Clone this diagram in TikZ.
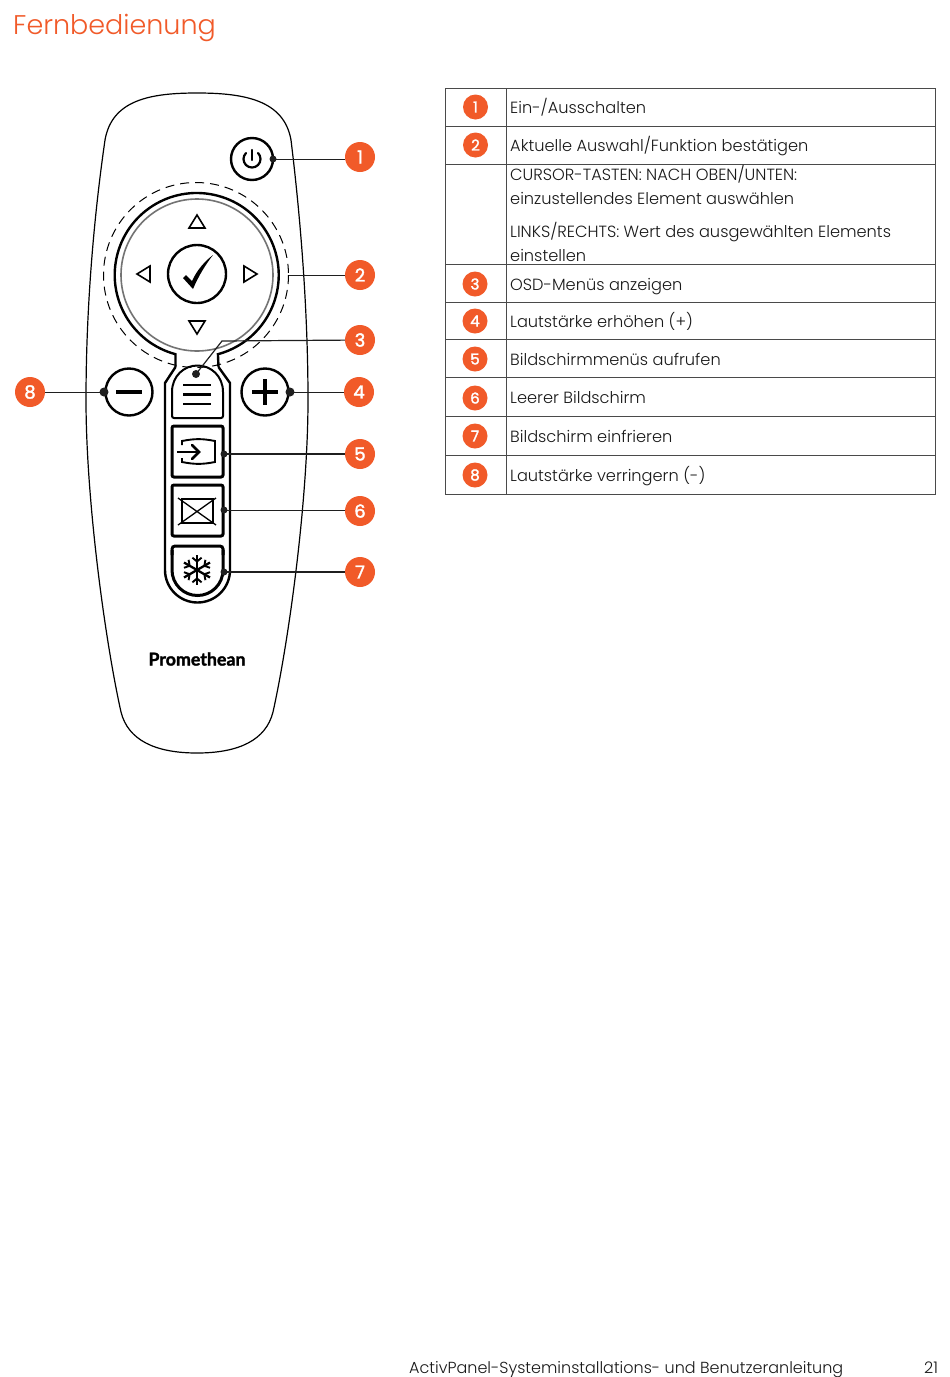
\documentclass[tikz,border=0pt]{standalone}
\usepackage{fontspec}
\usetikzlibrary{calc}
\setmainfont{Poppins Light}
\newfontfamily\boldf{Poppins}[FakeBold=2]
\newfontfamily\logof{Lato}[FakeBold=1.6]
\definecolor{promo}{HTML}{F15A29}
\definecolor{lin}{HTML}{1F1F1F}
\definecolor{rule}{HTML}{4A4A4A}
\tikzset{
 badge/.style={circle,fill=promo,draw=none,minimum size=30pt,inner sep=0pt,text=white,font=\boldf\fontsize{18}{18}\selectfont},
 tbadge/.style={circle,fill=promo,draw=none,minimum size=25pt,inner sep=0pt,text=white,font=\boldf\fontsize{15}{15}\selectfont},
 dotn/.style={circle,fill=lin,draw=none,minimum size=9pt,inner sep=0pt},
 leader/.style={draw=lin,line width=0.9pt},
 thick line/.style={draw=black,line width=2.4pt},
 mid line/.style={draw=black,line width=1.6pt},
 tabtxt/.style={anchor=base west,inner sep=0pt,font=\fontsize{16.2}{16.2}\selectfont,text=black!90},
 tabrule/.style={draw=rule,line width=0.9pt},
}
\begin{document}
\begin{tikzpicture}[x=1pt,y=-1pt]
\useasboundingbox (0,0) rectangle (950,1377);
\fill[white] (0,0) rectangle (950,1377);
\node[anchor=base west,inner sep=0pt,text=promo,font=\fontsize{27}{27}\selectfont] (title) at (13,34) {Fernbedienung};
% body
\draw[black,line width=1.2pt] (197,93) .. controls (150,93) and (112,100) .. (105,140) .. controls (92,230) and (86,320) .. (86,400) .. controls (86,500) and (105,640) .. (121,712) .. controls (128,740) and (155,753) .. (197,753) .. controls (239,753) and (266,740) .. (273,712) .. controls (289,640) and (308,500) .. (308,400) .. controls (308,320) and (302,230) .. (291,140) .. controls (284,100) and (244,93) .. (197,93) -- cycle;
% wheel
\draw[black,dash pattern=on 9pt off 6pt,line width=1pt] (196,275) circle (92.5);
\draw[thick line] (175.5,367) -- (175.5,354.2) arc[start angle=255,end angle=-75,radius=82pt] -- (218.5,367);
\draw[draw=black!55,line width=1.6pt] (197,275) circle (76);
\draw[thick line] (197,274) circle (29);
\path[fill=black] (183,278) -- (186,275) -- (192,281) .. controls (197,270) and (205,261) .. (213,255) .. controls (206,264) and (199,275) .. (193,289) -- cycle;
\draw[mid line,line join=miter] (189,228) -- (205,228) -- (197,215) -- cycle;
\draw[mid line] (189,321) -- (205,321) -- (197,334) -- cycle;
\draw[mid line] (150,266) -- (150,282) -- (137,274) -- cycle;
\draw[mid line] (244,266) -- (244,282) -- (257,274) -- cycle;
% power
\draw[thick line] (252,159) circle (21);
\draw[black,line width=2.2pt,line cap=round] (246,153) arc[start angle=135,end angle=405,radius=8.5pt];
\draw[black,line width=2.2pt,line cap=round] (252,150) -- (252,160);
% pill
\draw[thick line] (175.5,367) -- (165,383) -- (165,570) arc[start angle=180,end angle=360,radius=32.5pt] -- (230,383) -- (218.5,367);
% minus/plus
\draw[thick line] (129,392) circle (23.5);
\draw[black,line width=4.2pt] (116,392) -- (142,392);
\draw[thick line] (265,392) circle (23.5);
\draw[black,line width=4.2pt] (252,392) -- (278,392) (265,379) -- (265,405);
% buttons
\draw[mid line,line width=2pt,rounded corners=2pt] (172,392) -- (172,418) -- (223,418) -- (223,392);
\draw[mid line,line width=2pt] (223,392) .. controls (223,376) and (211,365.5) .. (197.5,365.5) .. controls (184,365.5) and (172,376) .. (172,392);
\draw[black,line width=2.8pt] (183,385) -- (211,385) (183,394.5) -- (211,394.5) (183,404) -- (211,404);
\draw[black,line width=3pt,rounded corners=2pt] (172,426) rectangle (223,477);
\draw[black,line width=3pt,rounded corners=2pt] (172,485) rectangle (223,536);
\draw[black,line width=3pt] (172,550) -- (172,570) arc[start angle=180,end angle=360,radius=25.5pt] -- (223,550);
\draw[black,line width=3pt,rounded corners=3pt] (172,555) -- (172,546) -- (223,546) -- (223,555);
\draw[black,line width=1.9pt] (182,445) -- (182,441) .. controls (195,438.5) and (202,438.5) .. (215,441) -- (215,462) .. controls (202,464.5) and (195,464.5) .. (182,462) -- (182,458);
\draw[black,line width=2.4pt] (177,452) -- (198,452);
\draw[black,line width=2.8pt,line cap=round] (192,445) -- (199,452) -- (192,459);
\draw[black,line width=1.3pt] (182,499) rectangle (213,523);
\draw[black,line width=1.3pt] (178,498) -- (216,525) (216,498) -- (178,525);
\foreach \a in {30,90,...,330}{
 \draw[black,line width=2.3pt] (197,570) -- ++(\a:15pt);
 \draw[black,line width=1.9pt] ($(197,570)+(\a:8.5pt)+(\a+50:6pt)$) -- ($(197,570)+(\a:8.5pt)$) -- ($(197,570)+(\a:8.5pt)+(\a-50:6pt)$);
}
% logo
\node[inner sep=0pt,font=\logof\bfseries\fontsize{17.8}{17.8}\selectfont] (logo) at (197,659) {Promethean};
% leaders
\node[badge] (b1) at (360,157) {1};
\node[badge] (b2) at (360,275) {2};
\node[badge] (b3) at (360,340) {3};
\node[badge] (b4) at (359,392) {4};
\node[badge] (b5) at (360,454) {5};
\node[badge] (b6) at (360,511) {6};
\node[badge] (b7) at (360,572) {7};
\node[badge] (b8) at (30,392) {8};
\node[dotn,minimum size=7pt] (d1) at (273,159) {};
\coordinate (d2) at (289,275);
\node[dotn,minimum size=8pt] (d3) at (196,374) {};
\coordinate (k3) at (222,341);
\node[dotn] (d4) at (290,392) {};
\node[dotn,minimum size=7pt] (d5) at (224,454) {};
\node[dotn,minimum size=7pt] (d6) at (224,510) {};
\node[dotn,minimum size=7pt] (d7) at (224,572) {};
\node[dotn] (d8) at (104,392) {};
\draw[leader] (d1.center) -- (d1.center -| b1.west);
\draw[leader] (d2) -- (b2);
\draw[leader,line width=1.2pt] (d3.center) -- (k3) -- (b3);
\draw[leader] (d4.center) -- (b4);
\draw[leader,line width=1.5pt] (d5.center) -- (b5);
\draw[leader] (d6.center) -- (d6.center -| b6.west);
\draw[leader,line width=1.5pt] (d7.center) -- (b7);
\draw[leader] (d8.center) -- (b8);
% table
\draw[tabrule] (445,88.5) rectangle (935.5,494.5);
\draw[tabrule] (506,88.5) -- (506,494.5);
\foreach \y in {126.5,164.5,264.5,302.5,339.5,377.5,416.5,455.5}{\draw[tabrule] (445,\y) -- (935.5,\y);}
\node[tbadge] (t1) at (475.5,107) {1};
\node[tbadge] (t2) at (475.5,145) {2};
\node[tbadge] (t3) at (475,284) {3};
\node[tbadge] (t4) at (475,321) {4};
\node[tbadge] (t5) at (475,359) {5};
\node[tbadge] (t6) at (475,398) {6};
\node[tbadge] (t7) at (475,436) {7};
\node[tbadge] (t8) at (475,475) {8};
\node[tabtxt] (r1) at (510,113) {Ein-/Ausschalten};
\node[tabtxt] (r2) at (510,151) {Aktuelle Auswahl/Funktion bestätigen};
\node[tabtxt] (r3a) at (510,180) {CURSOR-TASTEN: NACH OBEN/UNTEN:};
\node[tabtxt] (r3b) at (510,204) {einzustellendes Element auswählen};
\node[tabtxt] (r3c) at (510,237) {LINKS/RECHTS: Wert des ausgewählten Elements};
\node[tabtxt] (r3d) at (510,261) {einstellen};
\node[tabtxt] (r4) at (510,290) {OSD-Menüs anzeigen};
\node[tabtxt] (r5) at (510,327) {Lautstärke erhöhen (+)};
\node[tabtxt] (r6) at (510,365) {Bildschirmmenüs aufrufen};
\node[tabtxt] (r7) at (510,403) {Leerer Bildschirm};
\node[tabtxt] (r8) at (510,442) {Bildschirm einfrieren};
\node[tabtxt] (r9) at (510,481) {Lautstärke verringern (-)};
\node[tabtxt,font=\fontsize{16}{16}\selectfont] (foot) at (409,1373) {ActivPanel-Systeminstallations- und Benutzeranleitung};
\node[tabtxt,font=\fontsize{16}{16}\selectfont] (pg) at (924,1373) {21};
\end{tikzpicture}
\end{document}
